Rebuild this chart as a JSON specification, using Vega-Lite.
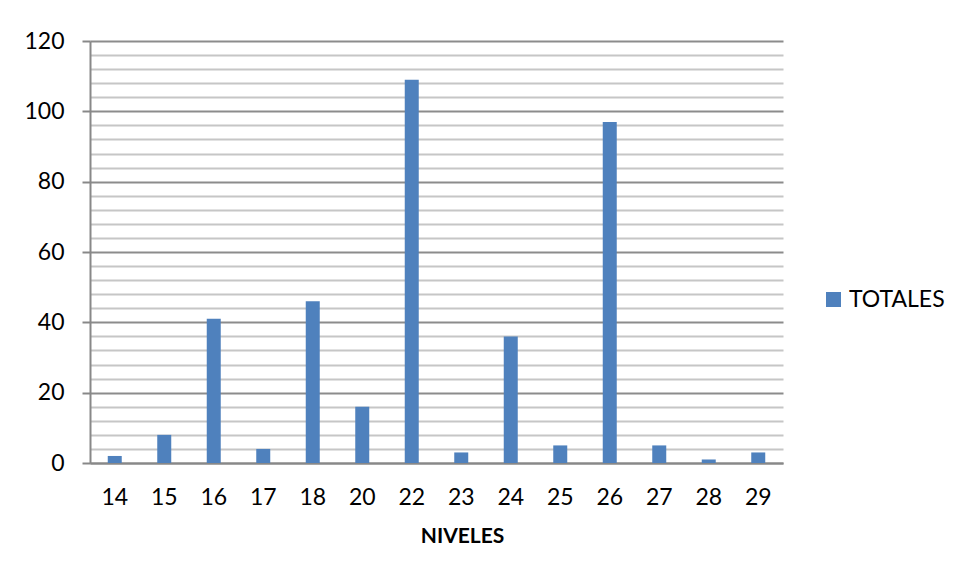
{
  "$schema": "https://vega.github.io/schema/vega-lite/v6.json",
  "autosize": "none",
  "width": 693,
  "height": 422,
  "padding": {"left": 90, "top": 41, "right": 171, "bottom": 117},
  "background": "white",
  "config": {
    "view": {"stroke": null},
    "font": "Lato",
    "axis": {"labelFont": "Lato", "titleFont": "Lato", "labelColor": "#000", "titleColor": "#000"}
  },
  "data": {
    "values": [
      {"nivel": "14", "totales": 2},
      {"nivel": "15", "totales": 8},
      {"nivel": "16", "totales": 41},
      {"nivel": "17", "totales": 4},
      {"nivel": "18", "totales": 46},
      {"nivel": "20", "totales": 16},
      {"nivel": "22", "totales": 109},
      {"nivel": "23", "totales": 3},
      {"nivel": "24", "totales": 36},
      {"nivel": "25", "totales": 5},
      {"nivel": "26", "totales": 97},
      {"nivel": "27", "totales": 5},
      {"nivel": "28", "totales": 1},
      {"nivel": "29", "totales": 3}
    ]
  },
  "mark": {"type": "bar", "size": 14},
  "encoding": {
    "x": {
      "field": "nivel",
      "type": "ordinal",
      "sort": null,
      "scale": {"paddingInner": 0, "paddingOuter": 0},
      "axis": {
        "title": "NIVELES",
        "titleFontSize": 21,
        "titleFontWeight": "bold",
        "titlePadding": 16,
        "titleX": 372,
        "labelAngle": 0,
        "labelFontSize": 23,
        "labelPadding": 23,
        "ticks": false,
        "domainColor": "#888888",
        "domainWidth": 2,
        "grid": false
      }
    },
    "y": {
      "field": "totales",
      "type": "quantitative",
      "scale": {"domain": [0, 120], "nice": false},
      "axis": {
        "title": null,
        "values": [0,4,8,12,16,20,24,28,32,36,40,44,48,52,56,60,64,68,72,76,80,84,88,92,96,100,104,108,112,116,120],
        "labelExpr": "datum.value % 20 === 0 ? datum.label : ''",
        "labelFontSize": 23,
        "labelPadding": 18,
        "tickSize": 8,
        "tickColor": "#888888",
        "tickWidth": 2,
        "tickOpacity": {"condition": {"test": "datum.value % 20 === 0", "value": 1}, "value": 0},
        "grid": true,
        "gridColor": {"condition": {"test": "datum.value % 20 === 0", "value": "#8c8c8c"}, "value": "#c6c6c6"},
        "gridWidth": 2,
        "domainColor": "#888888",
        "domainWidth": 2
      }
    },
    "color": {
      "datum": "TOTALES",
      "type": "nominal",
      "scale": {"range": ["#4F81BD"]},
      "legend": {
        "title": null,
        "orient": "none",
        "legendX": 732,
        "legendY": 247,
        "symbolType": "square",
        "symbolSize": 225,
        "symbolStrokeWidth": 0,
        "labelFontSize": 23,
        "labelFont": "Lato",
        "labelColor": "#000"
      }
    }
  }
}
